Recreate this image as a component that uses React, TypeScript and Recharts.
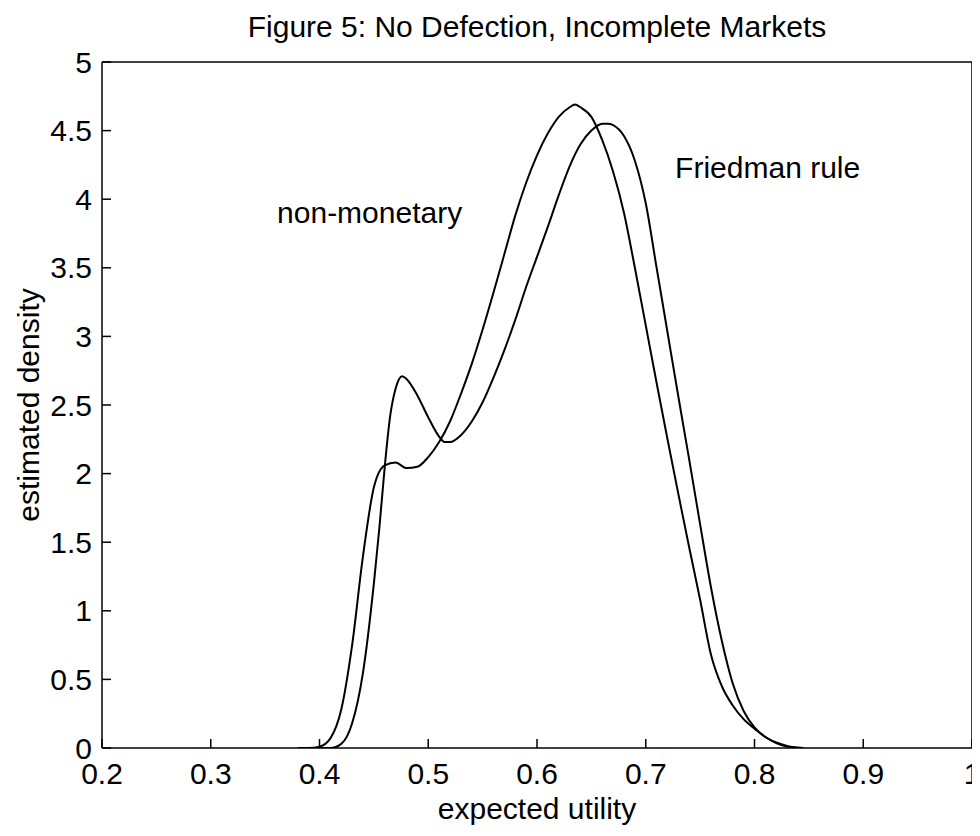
import React from "react";
import {
  LineChart,
  Line,
  XAxis,
  YAxis,
  ReferenceDot,
} from "recharts";

// Kernel density estimates of expected utility under two regimes.
const nonMonetaryX = [
  0.38, 0.39, 0.4, 0.41, 0.42, 0.43, 0.44, 0.45, 0.46, 0.47, 0.48, 0.49, 0.5,
  0.51, 0.52, 0.53, 0.54, 0.55, 0.56, 0.57, 0.58, 0.59, 0.6, 0.61, 0.62, 0.63,
  0.635, 0.64, 0.65, 0.66, 0.67, 0.68, 0.69, 0.7, 0.71, 0.72, 0.73, 0.74, 0.75,
  0.76, 0.77, 0.78, 0.79, 0.8, 0.81, 0.82, 0.83, 0.84,
];
const nonMonetaryDensity = [
  0, 0, 0.01, 0.07, 0.28, 0.75, 1.4, 1.9, 2.06, 2.08, 2.04, 2.05, 2.12, 2.23,
  2.38, 2.58, 2.8, 3.05, 3.32, 3.6, 3.88, 4.12, 4.32, 4.48, 4.6, 4.67, 4.69,
  4.67, 4.6, 4.43, 4.2, 3.9, 3.5, 3.08, 2.66, 2.25, 1.85, 1.46, 1.08, 0.68,
  0.45, 0.31, 0.21, 0.14, 0.08, 0.035, 0.01, 0,
];

const friedmanX = [
  0.4, 0.41, 0.42, 0.43, 0.44, 0.45, 0.455, 0.46, 0.465, 0.47, 0.476, 0.48,
  0.49, 0.5, 0.51, 0.515, 0.52, 0.53, 0.54, 0.55, 0.56, 0.57, 0.58, 0.59, 0.6,
  0.61, 0.62, 0.63, 0.64, 0.65, 0.66, 0.665, 0.67, 0.68, 0.69, 0.7, 0.71, 0.72,
  0.73, 0.74, 0.75, 0.76, 0.77, 0.78, 0.79, 0.8, 0.81, 0.82, 0.83, 0.84, 0.845,
];
const friedmanDensity = [
  0, 0, 0.03, 0.18, 0.55, 1.2, 1.6, 2.05, 2.42, 2.62, 2.71, 2.69, 2.57, 2.41,
  2.27, 2.23, 2.23, 2.28, 2.38, 2.52, 2.7, 2.9, 3.12, 3.36, 3.58, 3.8, 4.03,
  4.24, 4.4, 4.5, 4.55, 4.55, 4.54, 4.46, 4.28, 3.97, 3.5, 3.03, 2.56, 2.1,
  1.63, 1.17, 0.78, 0.47, 0.27, 0.15, 0.08, 0.04, 0.015, 0.003, 0,
];

const xTicks = [0.2, 0.3, 0.4, 0.5, 0.6, 0.7, 0.8, 0.9, 1];
const yTicks = [0, 0.5, 1, 1.5, 2, 2.5, 3, 3.5, 4, 4.5, 5];

const titleText = "Figure 5: No Defection, Incomplete Markets";
const xLabelText = "expected utility";
const yLabelText = "estimated density";
const nonMonetaryLabel = { x: 0.361, y: 3.9, text: "non-monetary" };
const friedmanLabel = { x: 0.727, y: 4.23, text: "Friedman rule" };

const nonMonetaryData = nonMonetaryX.map((x, i) => ({ x, y: nonMonetaryDensity[i] }));
const friedmanData = friedmanX.map((x, i) => ({ x, y: friedmanDensity[i] }));

const FONT = "'Liberation Sans', Arial, Helvetica, sans-serif";
const FS = 30;
const INK = "#000";

const textStyle = { fontFamily: FONT, fontSize: FS, fill: INK };

function YLabel(props: any) {
  const vb = props.viewBox || {};
  const cx = 20;
  const cy = (vb.y ?? 0) + (vb.height ?? 0) / 2;
  return (
    <text
      x={cx}
      y={cy}
      transform={`rotate(-90, ${cx}, ${cy})`}
      textAnchor="middle"
      dominantBaseline="central"
      style={textStyle}
    >
      {yLabelText}
    </text>
  );
}

function TitleLabel(props: any) {
  const vb = props.viewBox || {};
  const cx = (vb.x ?? 0) + (vb.width ?? 0) / 2;
  return (
    <text x={cx} y={29} textAnchor="middle" style={textStyle}>
      {titleText}
    </text>
  );
}

function XLabel(props: any) {
  const vb = props.viewBox || {};
  const cx = (vb.x ?? 0) + (vb.width ?? 0) / 2;
  return (
    <text x={cx} y={811} textAnchor="middle" style={textStyle}>
      {xLabelText}
    </text>
  );
}

function NoteLabel(text: string) {
  return (props: any) => {
    const vb = props.viewBox || {};
    const x = vb.x ?? vb.cx ?? 0;
    const y = vb.y ?? vb.cy ?? 0;
    return (
      <text x={x} y={y} dominantBaseline="central" style={textStyle}>
        {text}
      </text>
    );
  };
}

export default function App() {
  return (
    <div style={{ width: 972, height: 820, background: "#fff" }}>
      <LineChart
        width={972}
        height={820}
        margin={{ top: 0, right: 0, bottom: 0, left: 0 }}
      >
        <XAxis
          xAxisId="b"
          dataKey="x"
          type="number"
          domain={[0.2, 1]}
          ticks={xTicks}
          allowDataOverflow
          height={80}
          stroke={INK}
          strokeWidth={1.5}
          tickSize={-9}
          tickMargin={24}
          tick={{ ...textStyle }}
          tickLine={{ stroke: INK, strokeWidth: 1.5 }}
          label={<XLabel />}
        />
        <XAxis
          xAxisId="t"
          orientation="top"
          dataKey="x"
          type="number"
          domain={[0.2, 1]}
          ticks={xTicks}
          allowDataOverflow
          height={54}
          stroke={INK}
          strokeWidth={1.5}
          tickSize={-9}
          tick={false}
          tickLine={{ stroke: INK, strokeWidth: 1.5 }}
          label={<TitleLabel />}
        />
        <YAxis
          yAxisId="l"
          type="number"
          domain={[0, 5]}
          ticks={yTicks}
          allowDataOverflow
          width={94}
          stroke={INK}
          strokeWidth={1.5}
          tickSize={-9}
          tickMargin={19}
          tick={{ ...textStyle }}
          tickLine={{ stroke: INK, strokeWidth: 1.5 }}
          label={<YLabel />}
        />
        <YAxis
          yAxisId="r"
          orientation="right"
          type="number"
          domain={[0, 5]}
          ticks={yTicks}
          allowDataOverflow
          width={8}
          stroke={INK}
          strokeWidth={1.5}
          tickSize={-9}
          tick={false}
          tickLine={{ stroke: INK, strokeWidth: 1.5 }}
        />
        <Line
          xAxisId="b"
          yAxisId="l"
          data={nonMonetaryData}
          dataKey="y"
          type="monotone"
          stroke={INK}
          strokeWidth={2}
          dot={false}
          isAnimationActive={false}
        />
        <Line
          xAxisId="b"
          yAxisId="l"
          data={friedmanData}
          dataKey="y"
          type="monotone"
          stroke={INK}
          strokeWidth={2}
          dot={false}
          isAnimationActive={false}
        />
        <ReferenceDot
          xAxisId="b"
          yAxisId="l"
          x={nonMonetaryLabel.x}
          y={nonMonetaryLabel.y}
          r={0}
          fill="none"
          stroke="none"
          label={NoteLabel(nonMonetaryLabel.text)}
        />
        <ReferenceDot
          xAxisId="b"
          yAxisId="l"
          x={friedmanLabel.x}
          y={friedmanLabel.y}
          r={0}
          fill="none"
          stroke="none"
          label={NoteLabel(friedmanLabel.text)}
        />
      </LineChart>
    </div>
  );
}
